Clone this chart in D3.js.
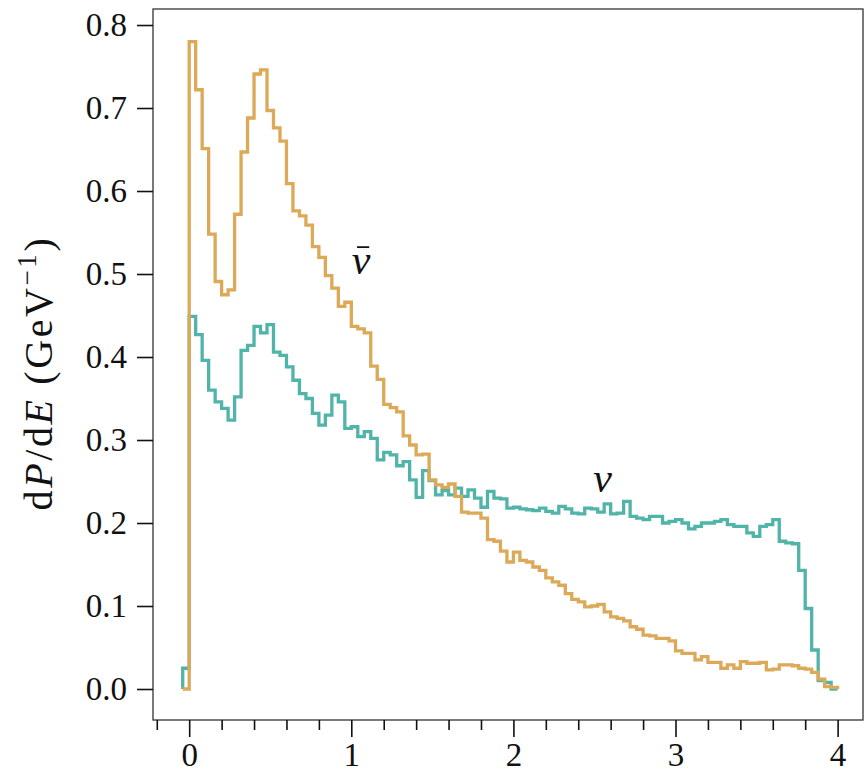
<!DOCTYPE html>
<html>
<head>
<meta charset="utf-8">
<script src="https://cdn.jsdelivr.net/npm/d3@7"></script>
<style>
  html, body { margin: 0; padding: 0; background: #fff; }
  svg { display: block; }
  text { font-family: "Liberation Serif", "DejaVu Serif", serif; fill: #111; }
</style>
</head>
<body>
<svg id="chart" width="867" height="776"></svg>
<script>
// ---- data ----
const binStart = -0.04;   // left edge of the first bin (GeV)
const binWidth = 0.04;    // bin width (GeV)

// anti-neutrino spectrum dP/dE per bin, first bin starts at -0.04
const antiNu = [
  0.000,
  0.780, 0.722, 0.651, 0.548, 0.491, 0.475, 0.481, 0.572, 0.647, 0.688,
  0.741, 0.746, 0.697, 0.676, 0.660, 0.609, 0.576, 0.570, 0.559, 0.533,
  0.520, 0.498, 0.483, 0.461, 0.466, 0.437, 0.434, 0.429, 0.389, 0.373,
  0.343, 0.339, 0.334, 0.305, 0.294, 0.282, 0.283, 0.252, 0.246, 0.243,
  0.247, 0.232, 0.213, 0.212, 0.212, 0.206, 0.180, 0.178, 0.166, 0.153,
  0.165, 0.155, 0.153, 0.147, 0.143, 0.134, 0.129, 0.125, 0.115, 0.108,
  0.105, 0.099, 0.100, 0.102, 0.093, 0.087, 0.085, 0.082, 0.075, 0.072,
  0.065, 0.064, 0.061, 0.061, 0.058, 0.046, 0.043, 0.043, 0.035, 0.039,
  0.032, 0.032, 0.025, 0.029, 0.025, 0.033, 0.031, 0.031, 0.032, 0.023,
  0.024, 0.029, 0.029, 0.028, 0.025, 0.024, 0.020, 0.012, 0.003, 0.002
];

// neutrino spectrum dP/dE per bin, same bins
const nu = [
  0.025,
  0.449, 0.427, 0.396, 0.360, 0.346, 0.338, 0.324, 0.352, 0.408, 0.414,
  0.437, 0.429, 0.439, 0.406, 0.402, 0.388, 0.372, 0.356, 0.350, 0.332,
  0.318, 0.330, 0.354, 0.346, 0.314, 0.316, 0.304, 0.310, 0.302, 0.276,
  0.285, 0.282, 0.269, 0.274, 0.252, 0.231, 0.263, 0.251, 0.234, 0.239,
  0.234, 0.242, 0.232, 0.240, 0.230, 0.219, 0.238, 0.230, 0.229, 0.218,
  0.219, 0.217, 0.216, 0.215, 0.218, 0.214, 0.212, 0.220, 0.217, 0.212,
  0.211, 0.218, 0.217, 0.213, 0.223, 0.211, 0.212, 0.226, 0.208, 0.206,
  0.204, 0.208, 0.208, 0.200, 0.202, 0.204, 0.200, 0.193, 0.196, 0.200,
  0.200, 0.202, 0.204, 0.198, 0.196, 0.196, 0.188, 0.184, 0.196, 0.198,
  0.204, 0.178, 0.176, 0.175, 0.143, 0.097, 0.047, 0.010, 0.008, 0.000
];

const xTickValues = [0, 1, 2, 3, 4];
const xMinorTicks = [-0.2, 0.2, 0.4, 0.6, 0.8, 1.2, 1.4, 1.6, 1.8, 2.2, 2.4, 2.6, 2.8, 3.2, 3.4, 3.6, 3.8];
const yTickValues = [0.0, 0.1, 0.2, 0.3, 0.4, 0.5, 0.6, 0.7, 0.8];

const colors = { antiNu: "#dba957", nu: "#50b4a9" };

// ---- layout ----
const svg = d3.select("#chart");
const margin = { left: 153, top: 9, right: 4, bottom: 56 };
const W = 867, H = 776;

const x = d3.scaleLinear().domain([-0.2233, 4.1566]).range([margin.left, W - margin.right]);
const y = d3.scaleLinear().domain([-0.03735, 0.8193]).range([H - margin.bottom, margin.top]);

// frame
svg.append("rect")
  .attr("x", margin.left).attr("y", margin.top)
  .attr("width", W - margin.right - margin.left)
  .attr("height", H - margin.bottom - margin.top)
  .attr("fill", "none").attr("stroke", "#333").attr("stroke-width", 1.3);

// step paths
function stepPoints(values) {
  const pts = [[binStart, 0]];
  values.forEach((v, i) => {
    const x0 = binStart + i * binWidth;
    pts.push([x0, v], [x0 + binWidth, v]);
  });
  pts.push([binStart + values.length * binWidth, 0]);
  return pts;
}
const line = d3.line().x(d => x(d[0])).y(d => y(d[1]));

const plot = svg.append("g");
plot.append("path").datum(stepPoints(nu))
  .attr("d", line).attr("fill", "none")
  .attr("stroke", colors.nu).attr("stroke-width", 3.3).attr("stroke-linejoin", "miter");
plot.append("path").datum(stepPoints(antiNu))
  .attr("d", line).attr("fill", "none")
  .attr("stroke", colors.antiNu).attr("stroke-width", 3.3).attr("stroke-linejoin", "miter");

// x axis
const xAxis = svg.append("g").attr("transform", `translate(0,${H - margin.bottom})`)
  .call(d3.axisBottom(x).tickValues(xTickValues).tickFormat(d3.format("d")).tickSize(17).tickPadding(6));
const xMinor = svg.append("g").attr("transform", `translate(0,${H - margin.bottom})`)
  .call(d3.axisBottom(x).tickValues(xMinorTicks).tickFormat("").tickSize(10));
[xAxis, xMinor].forEach(g => {
  g.select(".domain").remove();
  g.selectAll(".tick line").attr("stroke", "#111").attr("stroke-width", 1.6);
});
xAxis.selectAll(".tick text").attr("font-size", 33).attr("font-family", "Liberation Serif").attr("fill", "#111");

// y axis
const yAxis = svg.append("g").attr("transform", `translate(${margin.left},0)`)
  .call(d3.axisLeft(y).tickValues(yTickValues).tickFormat(d3.format(".1f")).tickSize(16).tickPadding(10));
yAxis.select(".domain").remove();
yAxis.selectAll(".tick line").attr("stroke", "#111").attr("stroke-width", 1.6);
yAxis.selectAll(".tick text").attr("font-size", 33).attr("font-family", "Liberation Serif").attr("fill", "#111");

// y label
const yl = svg.append("text")
  .attr("transform", `translate(52,373) rotate(-90)`)
  .attr("text-anchor", "middle").attr("font-size", 40).attr("letter-spacing", 2.6);
yl.append("tspan").text("d");
yl.append("tspan").attr("font-style", "italic").text("P");
yl.append("tspan").text("/d");
yl.append("tspan").attr("font-style", "italic").text("E");
yl.append("tspan").text(" (GeV");
yl.append("tspan").attr("font-size", 27).attr("dy", -16).text("\u22121");
yl.append("tspan").attr("dy", 16).text(")");

// series labels
const nubar = svg.append("text").attr("x", x(1.06)).attr("y", y(0.5)).attr("text-anchor", "middle")
  .attr("font-size", 42).attr("font-style", "italic").text("\u03BD");
const bb = nubar.node().getBBox();
svg.append("line")
  .attr("x1", bb.x + bb.width * 0.28).attr("x2", bb.x + bb.width * 0.92)
  .attr("y1", bb.y + bb.height * 0.22).attr("y2", bb.y + bb.height * 0.22)
  .attr("stroke", "#111").attr("stroke-width", 1.8);
svg.append("text").attr("x", x(2.55)).attr("y", y(0.237)).attr("text-anchor", "middle")
  .attr("font-size", 42).attr("font-style", "italic").text("\u03BD");
</script>
</body>
</html>
